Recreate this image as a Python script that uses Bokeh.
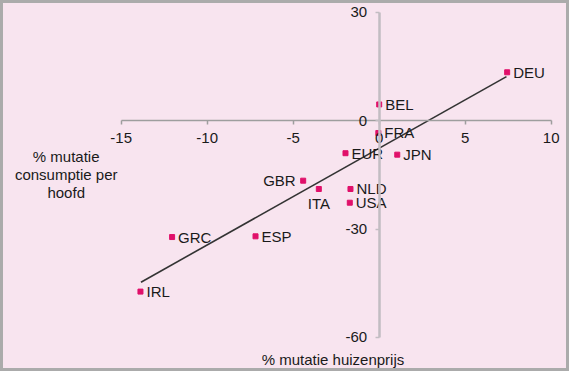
from bokeh.plotting import figure
from bokeh.models import ColumnDataSource, Range1d, LinearAxis, FixedTicker, Label
from bokeh.core.properties import value
from bokeh.embed import file_html
from bokeh.resources import INLINE

# ---- data ----
countries = ["DEU", "BEL", "FRA", "EUR", "JPN", "GBR", "ITA", "NLD", "USA", "GRC", "ESP", "IRL"]
house_price_change = [7.44, 0.0, -0.05, -1.96, 1.05, -4.42, -3.51, -1.67, -1.71, -12.04, -7.19, -13.88]
consumption_change = [13.4, 4.5, -3.4, -9.0, -9.4, -16.6, -18.9, -18.9, -22.7, -32.2, -32.0, -47.3]
label_side = ["right", "right", "right", "right", "right", "left", "below",
              "right", "right", "right", "right", "right"]
trend_x = [-13.85, 7.4]
trend_y = [-44.7, 12.2]
x_ticks = [-15, -10, -5, 0, 5, 10]
x_tick_labels = ["-15", "-10", "-5", "0", "5", "10"]
y_ticks = [-60, -30, 0, 30]
y_tick_labels = ["-60", "-30", "0", "30"]
x_title = "% mutatie huizenprijs"
y_title_lines = ["% mutatie", "consumptie per", "hoofd"]

# ---- styles ----
BG = "#F8E4EF"
MARK = "#E0106A"
FONT = "Liberation Sans"
FS = "15px"
TXT = "#1a1a1a"

W, H = 569, 371
p = figure(width=W, height=H, output_backend="svg", toolbar_location=None,
           x_axis_location=None, y_axis_location=None,
           x_range=Range1d(-22.017, 11.064), y_range=Range1d(-69.416, 33.269),
           min_border=0, min_border_left=0, min_border_right=0,
           min_border_top=0, min_border_bottom=0,
           background_fill_color=BG, border_fill_color=BG,
           outline_line_color="#ABABAB", outline_line_width=5)
for g in p.grid:
    g.visible = False

xaxis = LinearAxis(fixed_location=0, bounds=(min(x_ticks), max(x_ticks)),
                   ticker=FixedTicker(ticks=x_ticks),
                   major_label_overrides=dict(zip(x_ticks, x_tick_labels)))
xaxis.axis_line_color = "#9E9E9E"
xaxis.axis_line_width = 1.5
xaxis.major_tick_line_color = "#9E9E9E"
xaxis.major_tick_line_width = 1.5
xaxis.major_tick_in = 0
xaxis.major_tick_out = 4
xaxis.minor_tick_line_color = None
xaxis.major_label_standoff = 8
xaxis.major_label_text_font = FONT
xaxis.major_label_text_font_size = FS
xaxis.major_label_text_color = TXT
p.add_layout(xaxis, "below")

yaxis = LinearAxis(fixed_location=0, bounds=(min(y_ticks), max(y_ticks)),
                   ticker=FixedTicker(ticks=y_ticks),
                   major_label_overrides=dict(zip(y_ticks, y_tick_labels)))
yaxis.axis_line_color = "#C2BDC2"
yaxis.axis_line_width = 2.5
yaxis.major_tick_line_color = "#C2BDC2"
yaxis.major_tick_line_width = 1.5
yaxis.major_tick_in = 0
yaxis.major_tick_out = 4
yaxis.minor_tick_line_color = None
yaxis.major_label_standoff = 8
yaxis.major_label_text_font = FONT
yaxis.major_label_text_font_size = FS
yaxis.major_label_text_color = TXT
p.add_layout(yaxis, "left")

# trend line
p.line(trend_x, trend_y, line_color="#333333", line_width=1.6)

# points
src = ColumnDataSource(dict(x=house_price_change, y=consumption_change, name=countries))
p.scatter("x", "y", source=src, marker="square", size=5, fill_color=MARK, line_color=MARK)

# point labels
offsets = {"right": (6, 0, "left"), "left": (-7.5, 0, "right"), "below": (0, 15, "center")}
for side, (dx, dy, align) in offsets.items():
    idx = [i for i, s in enumerate(label_side) if s == side]
    s = ColumnDataSource(dict(x=[house_price_change[i] for i in idx],
                              y=[consumption_change[i] for i in idx],
                              t=[countries[i] for i in idx]))
    p.text("x", "y", text="t", source=s, x_offset=dx, y_offset=dy,
           text_align=align, text_baseline="middle",
           text_font=value(FONT), text_font_size=value(FS), text_color=TXT)

# axis titles
p.add_layout(Label(x=332.5, y=12, x_units="screen", y_units="screen", text=x_title,
                   text_align="center", text_baseline="middle",
                   text_font=FONT, text_font_size=FS, text_color=TXT))
for k, line in enumerate(y_title_lines):
    p.add_layout(Label(x=65.7, y=215 - 17.8 * k, x_units="screen", y_units="screen",
                       text=line, text_align="center", text_baseline="middle",
                       text_font=FONT, text_font_size=FS, text_color=TXT))

open("out.html", "w").write(file_html(p, INLINE))
